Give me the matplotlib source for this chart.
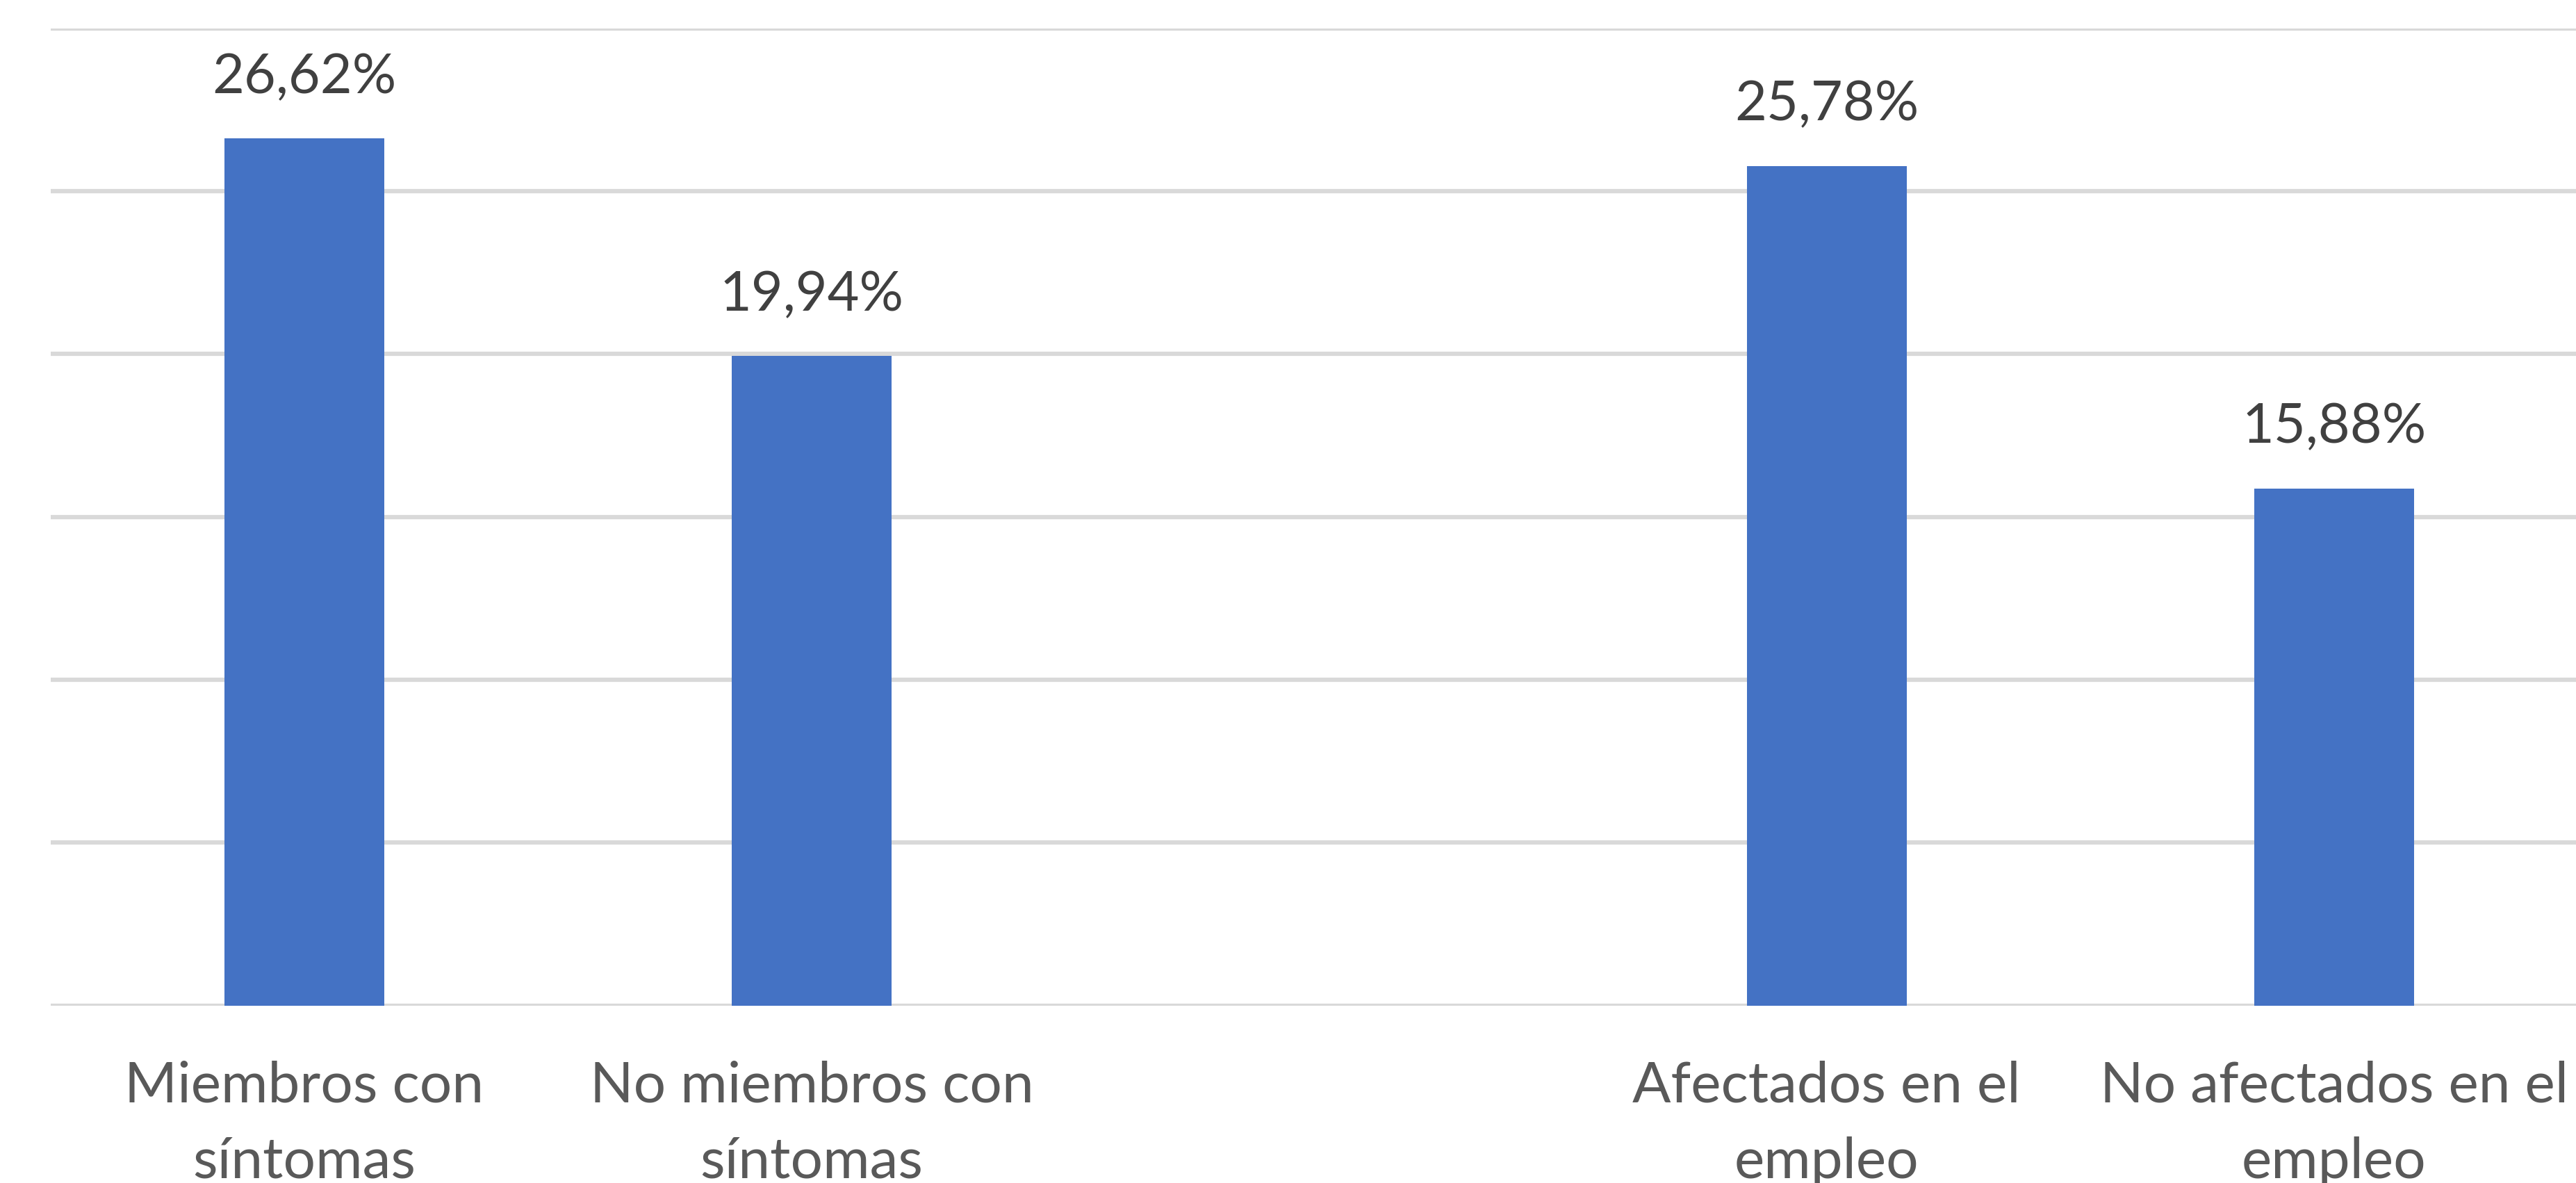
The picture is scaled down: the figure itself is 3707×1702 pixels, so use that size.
import numpy as np
import matplotlib.pyplot as plt

plt.rcParams['font.family'] = ['Lato', 'DejaVu Sans']

# data (empty slot between the two groups)
categories = ['Miembros con\nsíntomas', 'No miembros con\nsíntomas', '',
              'Afectados en el\nempleo', 'No afectados en el\nempleo']
values = [26.62, 19.94, np.nan, 25.78, 15.88]
value_labels = ['26,62%', '19,94%', '', '25,78%', '15,88%']

fig = plt.figure(figsize=(37.07, 17.02), dpi=100)
ax = fig.add_axes([0.0196, 0.15, 0.985, 0.826])

x = np.arange(len(categories))
bars = ax.bar(x, values, width=0.315, color='#4472C4', zorder=3)

for xi, v, lab in zip(x, values, value_labels):
    if lab:
        ax.annotate(lab, (xi, v), xytext=(0, 37), textcoords='offset points',
                    ha='center', va='bottom', fontsize=57, color='#404040')

ax.set_xlim(-0.5, len(categories) - 0.5)
ax.set_ylim(0, 30)
ax.set_yticks(np.arange(0, 31, 5))
ax.yaxis.grid(True, color='#D9D9D9', linewidth=4.5, zorder=0)
ax.set_yticklabels([])
ax.tick_params(axis='y', length=0)
ax.set_xticks(x)
ax.set_xticklabels(categories, fontsize=59, color='#595959', linespacing=1.58)
ax.tick_params(axis='x', length=0, pad=57)
for s in ax.spines.values():
    s.set_visible(False)

fig.savefig('out.png', dpi=100)
